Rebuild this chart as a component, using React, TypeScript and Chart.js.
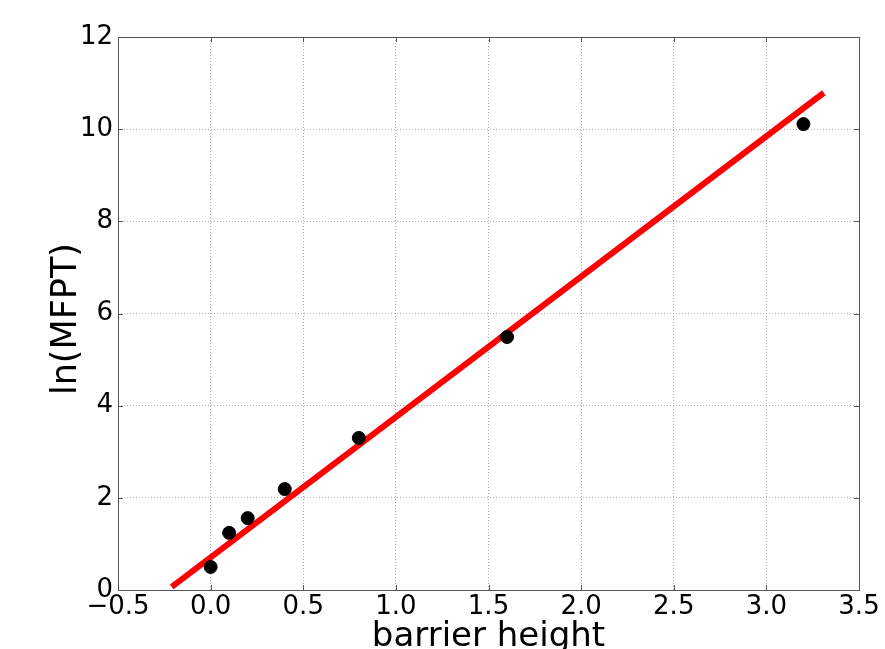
import React, { useEffect, useRef } from "react";
import { Chart, registerables } from "chart.js";

Chart.register(...registerables);

const barrierHeights = [0.0, 0.1, 0.2, 0.4, 0.8, 1.6, 3.2];
const lnMFPT = [0.5, 1.24, 1.56, 2.19, 3.3, 5.49, 10.11];
const fitX = [-0.21, 3.31];
const fitY = [0.07, 10.79];
const xTicks = [-0.5, 0.0, 0.5, 1.0, 1.5, 2.0, 2.5, 3.0, 3.5];
const yTicks = [0, 2, 4, 6, 8, 10, 12];

const FONT = "'DejaVu Sans', sans-serif";

const framePlugin = {
  id: "frame",
  afterDraw(chart: any) {
    const { ctx, chartArea } = chart;
    const { left, right, top, bottom } = chartArea;
    ctx.save();
    ctx.setLineDash([]);
    ctx.strokeStyle = "#555555";
    ctx.lineWidth = 1;
    const xs = chart.scales.x;
    const ys = chart.scales.y;
    ctx.beginPath();
    xTicks.forEach((v) => {
      const px = Math.round(xs.getPixelForValue(v)) + 0.5;
      ctx.moveTo(px, bottom);
      ctx.lineTo(px, bottom - 5);
      ctx.moveTo(px, top);
      ctx.lineTo(px, top + 5);
    });
    yTicks.forEach((v) => {
      const py = Math.round(ys.getPixelForValue(v)) + 0.5;
      ctx.moveTo(left, py);
      ctx.lineTo(left + 5, py);
      ctx.moveTo(right, py);
      ctx.lineTo(right - 5, py);
    });
    ctx.stroke();
    ctx.strokeRect(Math.round(left) + 0.5, Math.round(top) + 0.5, Math.round(right - left), Math.round(bottom - top));
    ctx.restore();
  },
};

export default function App() {
  const ref = useRef<HTMLCanvasElement | null>(null);
  useEffect(() => {
    document.body.style.margin = "0";
    const canvas = ref.current!;
    const chart = new Chart(canvas, {
      type: "scatter",
      data: {
        datasets: [
          {
            label: "data",
            data: barrierHeights.map((x, i) => ({ x, y: lnMFPT[i] })),
            backgroundColor: "#000000",
            borderColor: "#000000",
            pointRadius: 6.5,
            pointStyle: "circle",
            showLine: false,
          },
          {
            label: "fit",
            data: fitX.map((x, i) => ({ x, y: fitY[i] })),
            showLine: true,
            borderColor: "#ff0000",
            borderWidth: 6,
            borderCapStyle: "butt",
            pointRadius: 0,
            backgroundColor: "#ff0000",
          },
        ],
      },
      plugins: [framePlugin],
      options: {
        animation: false,
        responsive: false,
        maintainAspectRatio: false,
        layout: { padding: { top: 37, right: 26, left: 0, bottom: 0 } },
        plugins: {
          legend: { display: false },
          tooltip: { enabled: false },
          title: { display: false },
        },
        scales: {
          x: {
            type: "linear",
            min: -0.5,
            max: 3.5,
            afterBuildTicks: (s: any) => {
              s.ticks = xTicks.map((v) => ({ value: v }));
            },
            afterFit: (s: any) => {
              s.height = 59;
            },
            ticks: {
              color: "#000000",
              font: { family: FONT, size: 26 },
              padding: 2,
              maxRotation: 0,
              autoSkip: false,
              callback: (v: any) => (v < 0 ? "\u2212" : "") + Math.abs(Number(v)).toFixed(1),
            },
            grid: { color: "#b0b0b0", lineWidth: 1, drawTicks: false },
            border: { display: false, dash: [1, 2] },
            title: {
              display: true,
              text: "barrier height",
              color: "#000000",
              font: { family: FONT, size: 34 },
              padding: { top: 0, bottom: -9 },
            },
          },
          y: {
            type: "linear",
            min: 0,
            max: 12,
            afterBuildTicks: (s: any) => {
              s.ticks = yTicks.map((v) => ({ value: v }));
            },
            afterFit: (s: any) => {
              s.width = 118;
            },
            ticks: {
              color: "#000000",
              font: { family: FONT, size: 26 },
              padding: 5,
              autoSkip: false,
              callback: (v: any) => String(v),
            },
            grid: { color: "#b0b0b0", lineWidth: 1, drawTicks: false },
            border: { display: false, dash: [1, 2] },
            title: {
              display: true,
              text: "ln(MFPT) ",
              color: "#000000",
              font: { family: FONT, size: 35 },
              padding: { top: 46, bottom: 0 },
            },
          },
        },
      },
    });
    return () => chart.destroy();
  }, []);
  return (
    <div style={{ position: "absolute", left: 0, top: 0, width: 885, height: 649, background: "#ffffff" }}>
      <canvas ref={ref} width={885} height={649} style={{ width: 885, height: 649, display: "block" }} />
    </div>
  );
}
